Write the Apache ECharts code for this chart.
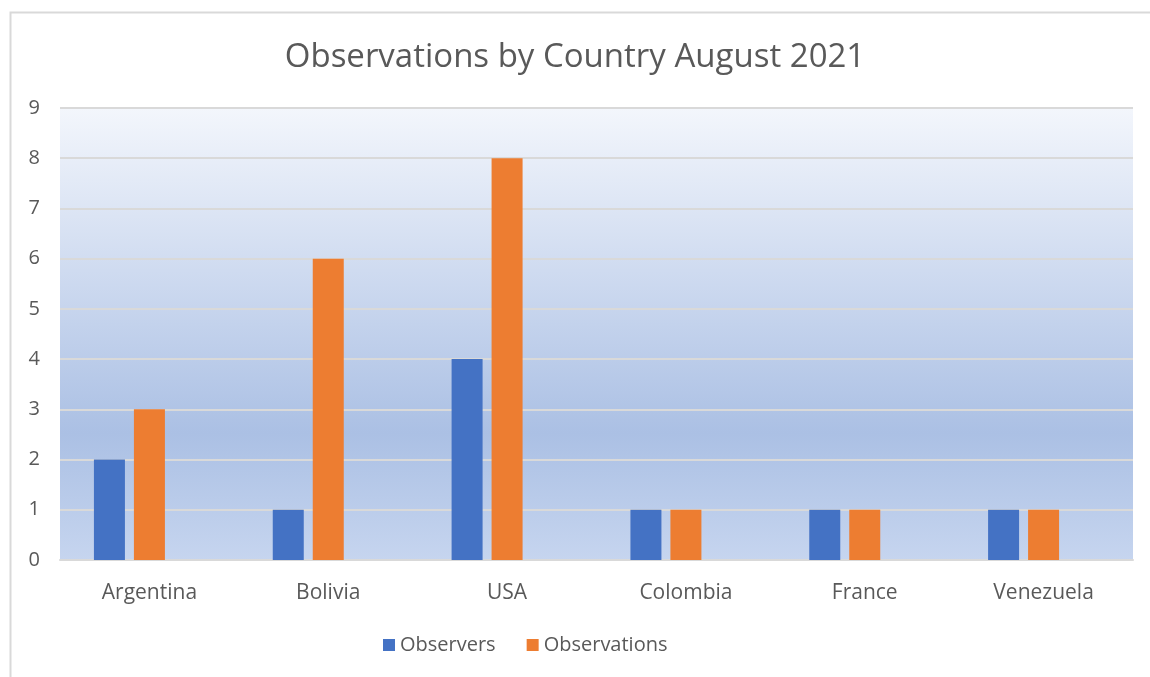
<!DOCTYPE html>
<html>
<head>
<meta charset="utf-8">
<script src="https://cdn.jsdelivr.net/npm/echarts@6/dist/echarts.min.js"></script>
<style>html,body{margin:0;padding:0;background:#fff}#c{width:1150px;height:677px}</style>
</head>
<body>
<div id="c"></div>
<script>
const categories = ['Argentina', 'Bolivia', 'USA', 'Colombia', 'France', 'Venezuela'];
const observers = [2, 1, 4, 1, 1, 1];
const observations = [3, 6, 8, 1, 1, 1];
const emptySeries = [null, null, null, null, null, null];
const titleText = 'Observations by Country August 2021';

const chart = echarts.init(document.getElementById('c'));
const font = '"Open Sans", "Noto Sans", sans-serif';
chart.setOption({
  animation: false,
  backgroundColor: '#ffffff',
  textStyle: { fontFamily: font },
  graphic: [{
    type: 'rect', left: 8, top: 10, z: -1,
    shape: { width: 1160, height: 700 },
    style: { fill: 'none', stroke: '#d9d9d9', lineWidth: 2 }
  }],
  title: {
    text: titleText, left: 'center', top: 36,
    textStyle: { fontFamily: font, fontSize: 33, fontWeight: 'normal', color: '#595959' }
  },
  legend: {
    data: ['Observers', 'Observations'], top: 630, left: 378,
    itemWidth: 12, itemHeight: 12, itemGap: 31, icon: 'rect',
    textStyle: { fontFamily: font, fontSize: 20, color: '#595959', padding: [0, 0, 0, 0] }
  },
  grid: {
    left: 60, right: 17, top: 108, bottom: 117, containLabel: false,
    show: true, borderWidth: 0,
    backgroundColor: {
      type: 'linear', x: 0, y: 0, x2: 0, y2: 1,
      colorStops: [
        { offset: 0, color: '#f3f6fc' },
        { offset: 0.72, color: '#abc0e4' },
        { offset: 1, color: '#c6d5ef' }
      ]
    }
  },
  xAxis: {
    type: 'category', data: categories,
    axisLine: { lineStyle: { color: '#d9d9d9', width: 2 } },
    axisTick: { show: false },
    axisLabel: { fontFamily: font, fontSize: 21, color: '#595959', margin: 23 }
  },
  yAxis: {
    type: 'value', min: 0, max: 9, interval: 1,
    axisLine: { show: false }, axisTick: { show: false },
    splitLine: { lineStyle: { color: '#d9d9d9', width: 2 } },
    axisLabel: { fontFamily: font, fontSize: 20, color: '#595959', margin: 20 }
  },
  series: [
    { name: 'Observers', type: 'bar', data: observers, barWidth: 31, barGap: '29%',
      itemStyle: { color: '#4472c4' } },
    { name: 'Observations', type: 'bar', data: observations, barWidth: 31, barGap: '29%',
      itemStyle: { color: '#ed7d31' } },
    { name: 'Series3', type: 'bar', data: emptySeries, barWidth: 31, barGap: '29%',
      itemStyle: { color: '#a5a5a5' } }
  ]
});
</script>
</body>
</html>
